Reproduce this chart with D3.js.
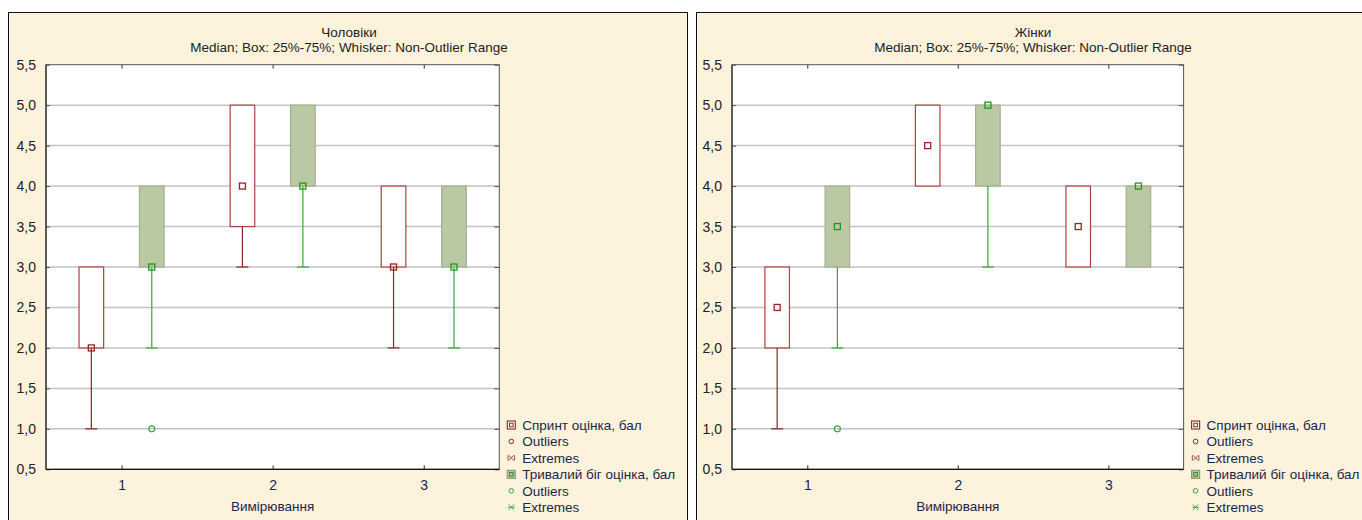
<!DOCTYPE html>
<html><head><meta charset="utf-8">
<script src="https://cdn.jsdelivr.net/npm/d3@7"></script>
<style>
body{margin:0;background:#fff;}
svg{display:block;font-family:"Liberation Sans",Arial,sans-serif;}
</style>
</head><body>
<svg id="c" width="1362" height="520"></svg>
<script>
// ---------- data ----------
const categories = [1, 2, 3];
const categoryLabels = ["1", "2", "3"];
const yTickValues = [0.5, 1.0, 1.5, 2.0, 2.5, 3.0, 3.5, 4.0, 4.5, 5.0, 5.5];
const yTickLabels = ["0,5","1,0","1,5","2,0","2,5","3,0","3,5","4,0","4,5","5,0","5,5"];
const panelTitles = ["Чоловіки", "Жінки"];
const subtitle = "Median; Box: 25%-75%; Whisker: Non-Outlier Range";
const xAxisTitle = "Вимірювання";
const seriesNames = ["Спринт оцінка, бал", "Тривалий біг оцінка, бал"];
const legendLabels = ["Спринт оцінка, бал", "Outliers", "Extremes", "Тривалий біг оцінка, бал", "Outliers", "Extremes"];

// Чоловіки — Спринт
const menSprintMedian = [2.0, 4.0, 3.0];
const menSprintQ1     = [2.0, 3.5, 3.0];
const menSprintQ3     = [3.0, 5.0, 4.0];
const menSprintMin    = [1.0, 3.0, 2.0];
const menSprintMax    = [3.0, 5.0, 4.0];
const menSprintOutliers = [[], [], []];
// Чоловіки — Тривалий біг
const menRunMedian = [3.0, 4.0, 3.0];
const menRunQ1     = [3.0, 4.0, 3.0];
const menRunQ3     = [4.0, 5.0, 4.0];
const menRunMin    = [2.0, 3.0, 2.0];
const menRunMax    = [4.0, 5.0, 4.0];
const menRunOutliers = [[1.0], [], []];
// Жінки — Спринт
const womenSprintMedian = [2.5, 4.5, 3.5];
const womenSprintQ1     = [2.0, 4.0, 3.0];
const womenSprintQ3     = [3.0, 5.0, 4.0];
const womenSprintMin    = [1.0, 4.0, 3.0];
const womenSprintMax    = [3.0, 5.0, 4.0];
const womenSprintOutliers = [[], [], []];
// Жінки — Тривалий біг
const womenRunMedian = [3.5, 5.0, 4.0];
const womenRunQ1     = [3.0, 4.0, 3.0];
const womenRunQ3     = [4.0, 5.0, 4.0];
const womenRunMin    = [2.0, 3.0, 3.0];
const womenRunMax    = [4.0, 5.0, 4.0];
const womenRunOutliers = [[1.0], [], []];

function buildSeries(median, q1, q3, min, max, outliers) {
  return categories.map((c, i) => ({cat: c, median: median[i], q1: q1[i], q3: q3[i], min: min[i], max: max[i], outliers: outliers[i]}));
}

const panels = [
  {title: panelTitles[0], frameX: 8.5, frameW: 679, plotX0: 46, plotX1: 499.3, titleX: 349,
   series: [buildSeries(menSprintMedian, menSprintQ1, menSprintQ3, menSprintMin, menSprintMax, menSprintOutliers),
            buildSeries(menRunMedian, menRunQ1, menRunQ3, menRunMin, menRunMax, menRunOutliers)]},
  {title: panelTitles[1], frameX: 696.5, frameW: 700, plotX0: 732, plotX1: 1183.6, titleX: 1033,
   series: [buildSeries(womenSprintMedian, womenSprintQ1, womenSprintQ3, womenSprintMin, womenSprintMax, womenSprintOutliers),
            buildSeries(womenRunMedian, womenRunQ1, womenRunQ3, womenRunMin, womenRunMax, womenRunOutliers)]}
];

// ---------- styles ----------
const styles = [
  {boxFill: "#ffffff", boxStroke: "#b0403f", whisker: "#8c2323", median: "#9a2222", outlier: "#9a2222"},
  {boxFill: "#bac8a3", boxStroke: "#a3af8f", whisker: "#3aa53a", median: "#1f981f", outlier: "#3aa53a"}
];
const seriesOffset = [-0.2, 0.2];
const boxWidthUnits = 0.163;
const capWidthPx = 12;
const medianSize = 6;

const svg = d3.select("#c");
const yTop = 64.7, yBottom = 469.3;

panels.forEach(p => {
  const g = svg.append("g");
  // frame
  g.append("rect").attr("x", p.frameX).attr("y", 12.5).attr("width", p.frameW).attr("height", 520)
    .attr("fill", "#fdf2dc").attr("stroke", "#111").attr("stroke-width", 1);

  const x = d3.scaleLinear().domain([0.5, 3.5]).range([p.plotX0, p.plotX1]);
  const y = d3.scaleLinear().domain([0.5, 5.5]).range([yBottom, yTop]);
  const plotW = p.plotX1 - p.plotX0;

  // plot background
  g.append("rect").attr("x", p.plotX0).attr("y", yTop).attr("width", plotW).attr("height", yBottom - yTop)
    .attr("fill", "#ffffff");

  // grid
  g.append("g").selectAll("line").data(yTickValues.slice(1, -1)).join("line")
    .attr("x1", p.plotX0).attr("x2", p.plotX1)
    .attr("y1", d => y(d)).attr("y2", d => y(d))
    .attr("stroke", "#c3c3c3").attr("stroke-width", 1.5);

  // titles
  g.append("text").attr("x", p.titleX).attr("y", 37).attr("text-anchor", "middle")
    .attr("font-size", 13.5).attr("fill", "#222").text(p.title);
  g.append("text").attr("x", p.titleX).attr("y", 52).attr("text-anchor", "middle")
    .attr("font-size", 13.5).attr("fill", "#222").text(subtitle);

  // y axis (left) with labels
  const yAxis = d3.axisLeft(y).tickValues(yTickValues)
    .tickFormat((d, i) => yTickLabels[i]).tickSizeInner(-4).tickSizeOuter(0).tickPadding(10);
  const ya = g.append("g").attr("transform", `translate(${p.plotX0},0)`).call(yAxis);
  ya.select(".domain").remove();
  ya.selectAll("line").attr("stroke", "#555");
  ya.selectAll("text").attr("font-size", 14).attr("fill", "#222").attr("font-family", "Liberation Sans, Arial, sans-serif");

  // right ticks
  const yAxisR = d3.axisRight(y).tickValues(yTickValues).tickFormat("").tickSizeInner(-5).tickSizeOuter(0);
  const yr = g.append("g").attr("transform", `translate(${p.plotX1},0)`).call(yAxisR);
  yr.select(".domain").remove();
  yr.selectAll("line").attr("stroke", "#555");

  // x axis bottom
  const xAxis = d3.axisBottom(x).tickValues(categories).tickFormat((d, i) => categoryLabels[i])
    .tickSizeInner(-4).tickSizeOuter(0).tickPadding(11);
  const xa = g.append("g").attr("transform", `translate(0,${yBottom})`).call(xAxis);
  xa.select(".domain").remove();
  xa.selectAll("line").attr("stroke", "#333");
  xa.selectAll("text").attr("font-size", 14).attr("fill", "#1c2748").attr("font-family", "Liberation Sans, Arial, sans-serif");

  // x axis top ticks
  const xAxisT = d3.axisTop(x).tickValues(categories).tickFormat("").tickSizeInner(-4).tickSizeOuter(0);
  const xt = g.append("g").attr("transform", `translate(0,${yTop})`).call(xAxisT);
  xt.select(".domain").remove();
  xt.selectAll("line").attr("stroke", "#333");

  // x title
  g.append("text").attr("x", (p.plotX0 + p.plotX1) / 2).attr("y", 510.5).attr("text-anchor", "middle")
    .attr("font-size", 13.5).attr("fill", "#1c2748").text(xAxisTitle);

  // boxes
  const halfBox = (x(0.5 + boxWidthUnits) - x(0.5)) / 2;
  p.series.forEach((s, si) => {
    const st = styles[si];
    const sg = g.append("g");
    const cx = d => x(d.cat + seriesOffset[si]);
    sg.selectAll("rect.box").data(s).join("rect").attr("class", "box")
      .attr("x", d => cx(d) - halfBox).attr("width", halfBox * 2)
      .attr("y", d => y(d.q3)).attr("height", d => y(d.q1) - y(d.q3))
      .attr("fill", st.boxFill).attr("stroke", st.boxStroke).attr("stroke-width", 1.2);
    // lower whiskers
    const lower = s.filter(d => d.min < d.q1);
    sg.selectAll("line.wl").data(lower).join("line").attr("class", "wl")
      .attr("x1", cx).attr("x2", cx).attr("y1", d => y(d.q1)).attr("y2", d => y(d.min))
      .attr("stroke", st.whisker).attr("stroke-width", 1.2);
    sg.selectAll("line.cl").data(lower).join("line").attr("class", "cl")
      .attr("x1", d => cx(d) - capWidthPx / 2).attr("x2", d => cx(d) + capWidthPx / 2)
      .attr("y1", d => y(d.min)).attr("y2", d => y(d.min))
      .attr("stroke", st.whisker).attr("stroke-width", 1.2);
    const upper = s.filter(d => d.max > d.q3);
    sg.selectAll("line.wu").data(upper).join("line").attr("class", "wu")
      .attr("x1", cx).attr("x2", cx).attr("y1", d => y(d.q3)).attr("y2", d => y(d.max))
      .attr("stroke", st.whisker).attr("stroke-width", 1.2);
    sg.selectAll("line.cu").data(upper).join("line").attr("class", "cu")
      .attr("x1", d => cx(d) - capWidthPx / 2).attr("x2", d => cx(d) + capWidthPx / 2)
      .attr("y1", d => y(d.max)).attr("y2", d => y(d.max))
      .attr("stroke", st.whisker).attr("stroke-width", 1.2);
    // medians
    sg.selectAll("rect.med").data(s).join("rect").attr("class", "med")
      .attr("x", d => cx(d) - medianSize / 2).attr("y", d => y(d.median) - medianSize / 2)
      .attr("width", medianSize).attr("height", medianSize)
      .attr("fill", "none").attr("stroke", st.median).attr("stroke-width", 1.3);
    // outliers
    const outs = s.flatMap(d => d.outliers.map(v => ({cat: d.cat, v})));
    sg.selectAll("circle.out").data(outs).join("circle").attr("class", "out")
      .attr("cx", d => x(d.cat + seriesOffset[si])).attr("cy", d => y(d.v)).attr("r", 3)
      .attr("fill", "none").attr("stroke", st.outlier).attr("stroke-width", 1.2);
  });

  // plot border
  g.append("rect").attr("x", p.plotX0).attr("y", yTop).attr("width", plotW).attr("height", yBottom - yTop)
    .attr("fill", "none").attr("stroke", "#555").attr("stroke-width", 1);
  g.append("line").attr("x1", p.plotX0).attr("x2", p.plotX1).attr("y1", yBottom).attr("y2", yBottom)
    .attr("stroke", "#111").attr("stroke-width", 1.3);
  g.append("line").attr("x1", p.plotX0).attr("x2", p.plotX0).attr("y1", yTop).attr("y2", yBottom)
    .attr("stroke", "#333").attr("stroke-width", 1.3);

  // legend
  const lg = g.append("g").attr("transform", `translate(${p.plotX1 + 8},0)`);
  const rowY = i => 425 + i * 16.45;
  legendLabels.forEach((lab, i) => {
    const st = styles[i < 3 ? 0 : 1];
    const yy = rowY(i);
    const kind = i % 3;
    if (kind === 0) {
      lg.append("rect").attr("x", 0).attr("y", yy - 4).attr("width", 8).attr("height", 8)
        .attr("fill", st.boxFill).attr("stroke", i < 3 ? "#a03030" : "#8f9c7c").attr("stroke-width", 1.2);
      lg.append("rect").attr("x", 2.2).attr("y", yy - 1.8).attr("width", 3.6).attr("height", 3.6)
        .attr("fill", "none").attr("stroke", st.median).attr("stroke-width", 1);
    } else if (kind === 1) {
      lg.append("circle").attr("cx", 4).attr("cy", yy).attr("r", 2.3)
        .attr("fill", "none").attr("stroke", st.outlier).attr("stroke-width", 1);
    } else {
      const s = 2.8;
      const pth = `M${4 - s},${yy - s}L${4 + s},${yy + s}M${4 - s},${yy + s}L${4 + s},${yy - s}M${4 - s - 0.5},${yy - 2.5}L${4 - s - 0.5},${yy + 2.5}M${4 + s + 0.5},${yy - 2.5}L${4 + s + 0.5},${yy + 2.5}`;
      lg.append("path").attr("d", i < 3 ? pth : `M${4 - s},${yy - s}L${4 + s},${yy + s}M${4 - s},${yy + s}L${4 + s},${yy - s}M${4 - 3.5},${yy}L${4 + 3.5},${yy}`)
        .attr("fill", "none").attr("stroke", i < 3 ? "#a04040" : "#3aa53a").attr("stroke-width", 0.9);
    }
    lg.append("text").attr("x", 15).attr("y", yy + 5).attr("font-size", 13.5).attr("fill", "#1c2748").text(lab);
  });
});
</script>
</body></html>
